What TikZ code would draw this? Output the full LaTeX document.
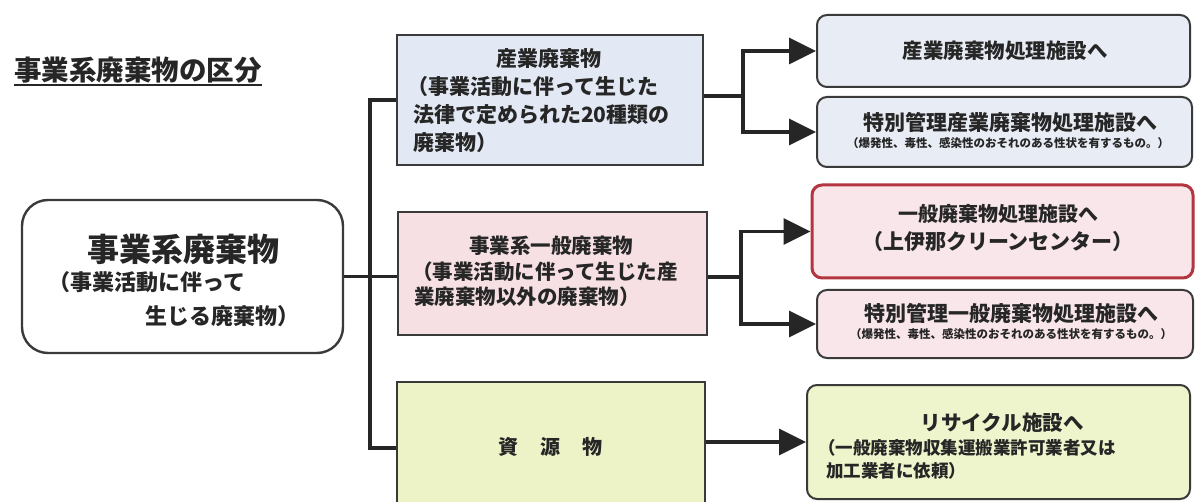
\documentclass[tikz,border=0pt]{standalone}
\usepackage{fontspec}
\setmainfont{Noto Sans CJK JP}
\usetikzlibrary{arrows.meta}
\definecolor{ink}{HTML}{262626}
\definecolor{edge}{HTML}{3A3A3A}
\definecolor{bluefill}{HTML}{E3E9F4}
\definecolor{bluefillR}{HTML}{E8ECF5}
\definecolor{pinkfill}{HTML}{F6E0E4}
\definecolor{pinkfillR}{HTML}{F9E6EA}
\definecolor{redline}{HTML}{B3353F}
\definecolor{greenfill}{HTML}{EDF3C6}
\definecolor{greenfillR}{HTML}{EEF4CB}
\newcommand{\jsz}[1]{\fontsize{#1}{#1}\selectfont\bfseries}
\tikzset{
  x=1pt, y=-1pt,
  midbox/.style={draw=edge, line width=2.2pt, inner sep=0pt},
  resbox/.style={draw=edge, line width=2pt, rounded corners=10pt, inner sep=0pt},
  txt/.style={inner sep=0pt, text=ink},
  conn/.style={draw=ink, line width=3.6pt},
  arr/.style={draw=ink, line width=3.6pt, -{Triangle[length=27pt,width=26pt]}},
}
\begin{document}
\begin{tikzpicture}
\useasboundingbox (0,0) rectangle (1196,502);
\fill[white] (0,0) rectangle (1196,502);

% title
\node[txt, anchor=west, font=\jsz{27.5pt}] (title) at (14,70) {事業系廃棄物の区分};
\draw[ink, line width=2pt] ([yshift=-2pt]title.south west) -- ([yshift=-2pt]title.south east);

% left box
\node[draw=edge, line width=2.4pt, rounded corners=26pt, minimum width=321pt, minimum height=153pt, inner sep=0pt] (L) at (182.5,276.5) {};
\node[txt, font=\jsz{32pt}] (L1) at (183,249) {事業系廃棄物};
\node[txt, anchor=west, font=\jsz{22pt}] (L2) at (48,282) {（事業活動に伴って};
\node[txt, anchor=east, font=\jsz{22pt}] (L3) at (300,316) {生じる廃棄物）};

% middle boxes
\node[midbox, fill=bluefill, minimum width=306pt, minimum height=130pt] (b1) at (550,100) {};
\node[txt, font=\jsz{21pt}] (b1a) at (549,59) {産業廃棄物};
\node[txt, anchor=west, font=\jsz{21pt}] (b1b) at (407,87) {（事業活動に伴って生じた};
\node[txt, anchor=west, font=\jsz{21pt}] (b1c) at (413,115) {法律で定められた20種類の};
\node[txt, anchor=west, font=\jsz{21pt}] (b1d) at (413,143) {廃棄物）};

\node[midbox, fill=pinkfill, minimum width=309pt, minimum height=123pt] (b2) at (552.5,273.5) {};
\node[txt, font=\jsz{20.5pt}] (b2a) at (551,246) {事業系一般廃棄物};
\node[txt, anchor=west, font=\jsz{20.5pt}] (b2b) at (412,272) {（事業活動に伴って生じた産};
\node[txt, anchor=west, font=\jsz{20.5pt}] (b2c) at (414,297) {業廃棄物以外の廃棄物）};

\node[midbox, fill=greenfill, minimum width=308pt, minimum height=136pt] (b3) at (551,450) {};
\node[txt, font=\jsz{20pt}] (b3a) at (550,447) {資\hspace{22pt}源\hspace{22pt}物};

% right boxes
\node[resbox, fill=bluefillR, minimum width=373pt, minimum height=72pt] (rA) at (1003.5,51) {};
\node[txt, font=\jsz{20.5pt}] (rA1) at (1005,51) {産業廃棄物処理施設へ};

\node[resbox, fill=bluefillR, minimum width=375pt, minimum height=70pt] (rB) at (1004.5,132) {};
\node[txt, font=\jsz{21pt}] (rB1) at (1010,123) {特別管理産業廃棄物処理施設へ};
\node[txt, font=\jsz{11.5pt}] (rB2) at (1008,143) {（爆発性、毒性、感染性のおそれのある性状を有するもの。）};

\node[resbox, draw=redline, line width=3pt, fill=pinkfillR, minimum width=381pt, minimum height=93pt] (rC) at (1002.5,231.5) {};
\node[txt, font=\jsz{20pt}] (rC1) at (998,214) {一般廃棄物処理施設へ};
\node[txt, font=\jsz{21pt}] (rC2) at (998,242) {（上伊那クリーンセンター）};

\node[resbox, fill=pinkfillR, minimum width=376pt, minimum height=68pt] (rD) at (1005,324) {};
\node[txt, font=\jsz{21pt}] (rD1) at (1011,313) {特別管理一般廃棄物処理施設へ};
\node[txt, font=\jsz{11.5pt}] (rD2) at (1011,334) {（爆発性、毒性、感染性のおそれのある性状を有するもの。）};

\node[resbox, fill=greenfillR, minimum width=383pt, minimum height=114pt] (rE) at (998.5,442) {};
\node[txt, font=\jsz{20.5pt}] (rE1) at (1002,423) {リサイクル施設へ};
\node[txt, anchor=west, font=\jsz{17.5pt}] (rE2) at (818,448) {（一般廃棄物収集運搬業許可業者又は};
\node[txt, anchor=west, font=\jsz{17.5pt}] (rE3) at (826,471) {加工業者に依頼）};

% trunk
\coordinate (t1) at (370,100);
\coordinate (t3) at (370,448);
\draw[conn] (b1.west) -- (t1) -- (t3) -- (t3 -| b3.west);
\draw[conn] (L.east) -- (L.east -| b2.west);

% branches
\coordinate (j1) at (743,96);
\coordinate (j2) at (741,277);
\draw[conn] (b1.east |- j1) -- (j1);
\draw[arr] (j1) |- (rA.west);
\draw[arr] (j1) |- (rB.west);
\draw[conn] (b2.east |- j2) -- (j2);
\draw[arr] (j2) |- (rC.west);
\draw[arr] (j2) |- (rD.west);
\draw[arr] (b3.east |- rE.west) -- (rE.west);
\end{tikzpicture}
\end{document}
